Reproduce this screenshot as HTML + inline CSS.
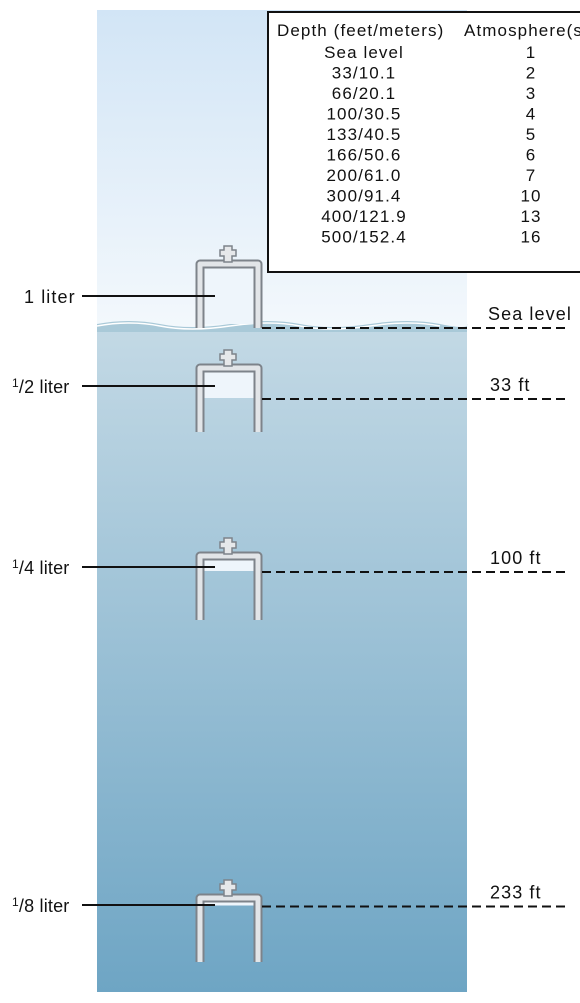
<!DOCTYPE html>
<html><head><meta charset="utf-8"><style>
body{margin:0;background:#fff;width:580px;height:998px;overflow:hidden;font-family:"Liberation Sans",Arial,sans-serif}
svg text{font-family:"Liberation Sans",Arial,sans-serif;letter-spacing:1.1px}
svg text.vl{letter-spacing:0.2px}
</style></head><body>
<svg id="s" width="580" height="998" viewBox="0 0 580 998" font-family="Liberation Sans, Arial, sans-serif">
<defs>
<linearGradient id="sky" x1="0" y1="0" x2="0" y2="1"><stop offset="0" stop-color="#d2e5f6"/><stop offset="1" stop-color="#f3f8fc"/></linearGradient>
<linearGradient id="sea" x1="0" y1="0" x2="0" y2="1"><stop offset="0" stop-color="#c3d9e5"/><stop offset="1" stop-color="#6ea5c4"/></linearGradient>
</defs>
<rect x="97" y="10" width="370" height="318" fill="url(#sky)"/>
<rect x="97" y="328" width="370" height="664" fill="url(#sea)"/>
<path d="M97 324 Q130 318 160 324 T230 324 T300 324 T370 324 T440 324 T467 324 L467 332 L97 332Z" fill="#a9c9d8"/>
<path d="M97 326 Q130 320 160 326 T230 326 T300 326 T370 326 T440 326" fill="none" stroke="#fff" stroke-width="1.5"/>
<g id="bells"></g>
<g>
<rect x="268" y="12" width="320" height="260" fill="#fff" stroke="#111" stroke-width="2"/>
<g id="tbl" font-size="17" fill="#111"></g>
</g>
</svg>
<script>
const depthLabels=["Sea level","33 ft","100 ft","233 ft"];
const volumeLabels=["1","1/2","1/4","1/8"];
const airFraction=[1,0.5,0.25,0.125];
const bellTops=[258,362,550,892];
const tableDepths=["Sea level","33/10.1","66/20.1","100/30.5","133/40.5","166/50.6","200/61.0","300/91.4","400/121.9","500/152.4"];
const tableAtm=[1,2,3,4,5,6,7,10,13,16];
const NS="http://www.w3.org/2000/svg";
function mk(t,a,p){const e=document.createElementNS(NS,t);for(const k in a)e.setAttribute(k,a[k]);p.appendChild(e);return e;}
const g=document.getElementById('bells');
const H=70, innerTop=10, innerH=H-innerTop;
bellTops.forEach((top,i)=>{
  const b=mk('g',{},g);
  
  
  const bottom=top+H;
  const waterline=top+innerTop+innerH*airFraction[i]-4;
  mk('rect',{x:203,y:top+7,width:52,height:waterline-top-7,fill:'#eef5fb'},b);
  mk('path',{d:`M200 ${bottom} L200 ${top+6} L258 ${top+6} L258 ${bottom}`,fill:'none',stroke:'#7d838a','stroke-width':9,'stroke-linejoin':'round'},b);
  mk('path',{d:`M200 ${bottom} L200 ${top+6} L258 ${top+6} L258 ${bottom}`,fill:'none',stroke:'#e2e5e8','stroke-width':5,'stroke-linejoin':'round'},b);
  mk('path',{d:`M224 ${top-12} h8 v4 h4 v6 h-4 v6 h-8 v-6 h-4 v-6 h4z`,fill:'#e6e8ea',stroke:'#7d838a','stroke-width':1.5},b);
  const ly=Math.round((top+innerTop+waterline)/2)+(i===0?0:1);
  const ll=mk('line',{x1:82,y1:ly,x2:215,y2:ly,stroke:'#111','stroke-width':2},b);
  
  
  const lab=mk('text',{x:i===0?24:12,y:ly+7,'font-size':18,fill:'#111',class:i===0?'':'vl'},b);
  
  
  if(i===0){lab.textContent='1 liter';}
  else{const parts=volumeLabels[i].split('/');
    mk('tspan',{'font-size':12,dy:-6},lab).textContent=parts[0];
    mk('tspan',{dy:6},lab).textContent='/';
    mk('tspan',{'font-size':18},lab).textContent=parts[1]+' liter';}
  const dy=i===0?328:waterline+1;
  const dl=mk('line',{x1:262,y1:dy,x2:570,y2:dy,stroke:'#111','stroke-width':2,'stroke-dasharray':'9 5'},b);
  
  
  const dt=mk('text',{x:i===0?488:490,y:dy-8,'font-size':18,fill:'#111'},b);
  
  
  dt.textContent=depthLabels[i];
});
const t=document.getElementById('tbl');
const h1=mk('text',{x:277,y:36},t);h1.textContent='Depth (feet/meters)';

const h2=mk('text',{x:464,y:36},t);h2.textContent='Atmosphere(s)';

tableDepths.forEach((d,i)=>{
  const y=58+i*20.5;
  const a=mk('text',{x:364,y:y,'text-anchor':'middle'},t);a.textContent=d;
  
  const c=mk('text',{x:531,y:y,'text-anchor':'middle'},t);c.textContent=tableAtm[i];
  
});
</script>
</body></html>
